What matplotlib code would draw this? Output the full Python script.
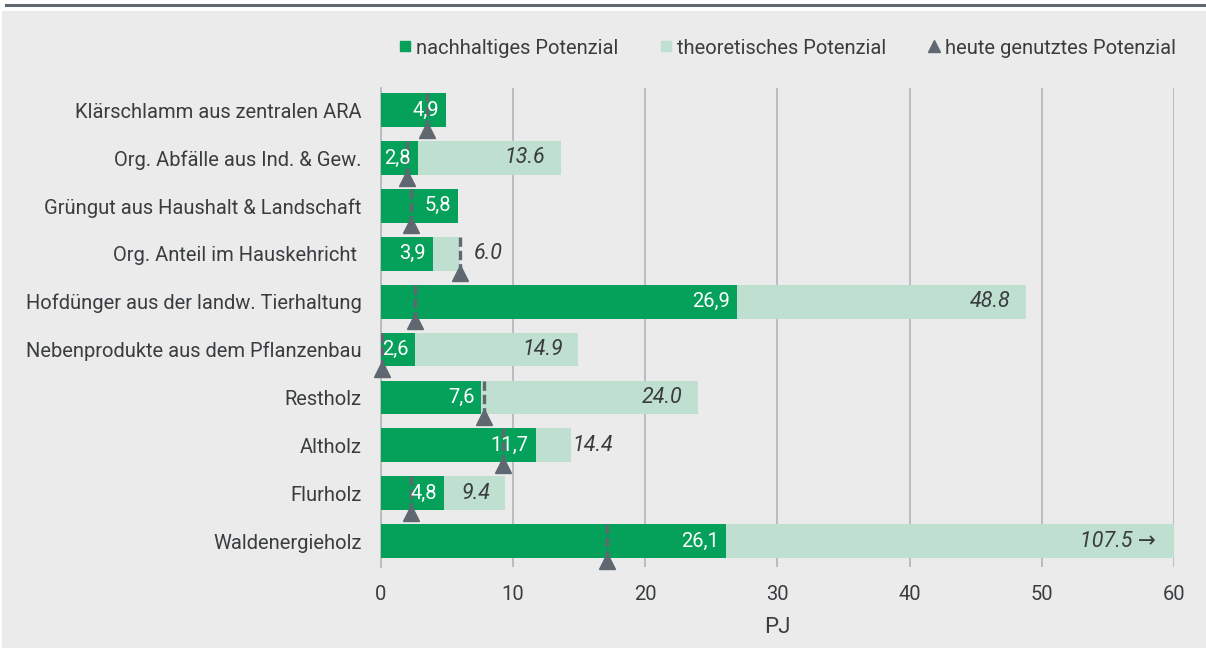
import matplotlib
matplotlib.use("Agg")
from matplotlib import pyplot as plt
from matplotlib.lines import Line2D
from matplotlib.patches import Rectangle

plt.rcParams['font.family'] = ['Roboto', 'DejaVu Sans']

categories = [
    "Klärschlamm aus zentralen ARA",
    "Org. Abfälle aus Ind. & Gew.",
    "Grüngut aus Haushalt & Landschaft",
    "Org. Anteil im Hauskehricht ",
    "Hofdünger aus der landw. Tierhaltung",
    "Nebenprodukte aus dem Pflanzenbau",
    "Restholz",
    "Altholz",
    "Flurholz",
    "Waldenergieholz",
]
sustainable = [4.9, 2.8, 5.8, 3.9, 26.9, 2.6, 7.6, 11.7, 4.8, 26.1]
theoretical = [None, 13.6, None, 6.0, 48.8, 14.9, 24.0, 14.4, 9.4, 107.5]
used_today = [3.5, 2.0, 2.3, 6.0, 2.6, 0.05, 7.8, 9.2, 2.3, 17.1]
x_ticks = [0, 10, 20, 30, 40, 50, 60]

GREEN = "#05a05a"
LIGHT = "#bfdfd0"
GRAY = "#5f6770"
BG = "#ebebeb"
TXT = "#3a3d40"
GRID = "#b6babd"

fig = plt.figure(figsize=(12.06, 6.48), dpi=100, facecolor="white")
fig.add_artist(Rectangle((0.002, 0), 0.998, 1 - 10.5 / 648, transform=fig.transFigure,
                         facecolor=BG, edgecolor="none", zorder=-10))
fig.add_artist(Line2D([0.005, 1.0], [1 - 5 / 648, 1 - 5 / 648], transform=fig.transFigure,
                      color=GRAY, lw=2.2))

ax = fig.add_axes([381 / 1206, 1 - 567 / 648, (1174 - 381) / 1206, (567 - 88) / 648])
ax.set_facecolor("none")

ypos = list(range(len(categories)))
h = 0.705

theo_vals = [t if t is not None else 0 for t in theoretical]
ax.barh(ypos, theo_vals, height=h, color=LIGHT, zorder=2)
ax.barh(ypos, sustainable, height=h, color=GREEN, zorder=3)

for i, (s, t, u) in enumerate(zip(sustainable, theoretical, used_today)):
    ax.plot([u, u], [i - h / 2, i + h / 2 - 0.02], color=GRAY, lw=2.4,
            linestyle=(0, (2.8, 1.2)), zorder=4)
    ax.plot(u, i + 0.41, marker="^", color=GRAY, markersize=11, zorder=5, clip_on=False)
    ax.annotate(f"{s:.1f}".replace(".", ","), (s, i), xytext=(-5, 0),
                textcoords="offset points", ha="right", va="center",
                color="white", fontsize=14.5, zorder=6)
    if t is None:
        continue
    if t > 60:
        ax.annotate(f"{t:.1f} →", (60, i), xytext=(-13, 0), textcoords="offset points",
                    ha="right", va="center", color=TXT, fontsize=15.5, style="italic", zorder=6)
    elif t - s < 4:
        pad = 1 if t == 14.4 else 10
        ax.annotate(f"{t:.1f}", (t, i), xytext=(pad, 0), textcoords="offset points",
                    ha="left", va="center", color=TXT, fontsize=15.5, style="italic", zorder=6)
    else:
        ax.annotate(f"{t:.1f}", (t, i), xytext=(-11, 0), textcoords="offset points",
                    ha="right", va="center", color=TXT, fontsize=15.5, style="italic", zorder=6)

ax.set_xlim(0, 60)
ax.set_ylim(9.54, -0.46)
ax.set_yticks(ypos)
ax.set_yticklabels(categories, fontsize=14.5, color=TXT)
ax.set_xticks(x_ticks)
ax.set_xticklabels([str(x) for x in x_ticks], fontsize=14.5, color=TXT)
ax.tick_params(axis="both", length=0)
ax.tick_params(axis="y", pad=14)
ax.tick_params(axis="x", pad=13)
ax.set_xlabel("PJ", fontsize=16, color=TXT, labelpad=9)
ax.grid(axis="x", color=GRID, lw=1.3, zorder=1)
ax.set_axisbelow(True)
for side in ["top", "right", "bottom"]:
    ax.spines[side].set_visible(False)
ax.spines["left"].set_color(GRID)
ax.spines["left"].set_linewidth(1.3)

handles = [
    Line2D([], [], marker="s", linestyle="none", color=GREEN, markersize=7.5),
    Line2D([], [], marker="s", linestyle="none", color=LIGHT, markersize=7.5),
    Line2D([], [], marker="^", linestyle="none", color=GRAY, markersize=8),
]
labels = ["nachhaltiges Potenzial", "theoretisches Potenzial", "heute genutztes Potenzial"]
fig.legend(handles, labels, loc="center right", bbox_to_anchor=(1194 / 1206, 1 - 48 / 648),
           ncol=3, frameon=False, fontsize=14.5, handlelength=0.6, handletextpad=0.25,
           columnspacing=2.05, labelcolor=TXT)

fig.savefig("out.png", dpi=100, facecolor=fig.get_facecolor())
